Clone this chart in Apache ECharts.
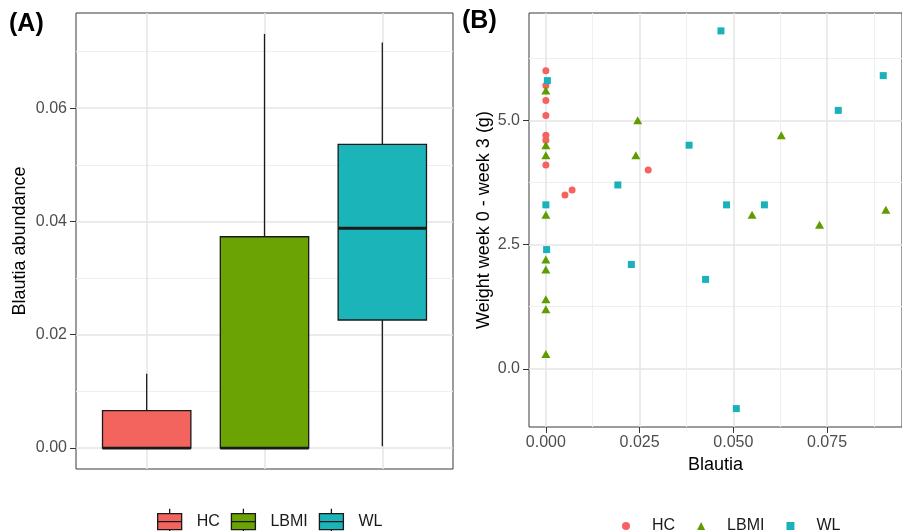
<!DOCTYPE html>
<html><head><meta charset="utf-8">
<script src="https://cdn.jsdelivr.net/npm/echarts@6/dist/echarts.min.js"></script>
<style>html,body{margin:0;padding:0;background:#fff}#c{width:902px;height:531px}</style>
</head><body><div id="c"></div>
<script>
// ---------- Panel A: box plot data ----------
const groups = ['HC', 'LBMI', 'WL'];
// [lower whisker, Q1, median, Q3, upper whisker]
const boxHC   = [0, 0, 0, 0.0066, 0.0131];
const boxLBMI = [0, 0, 0, 0.0373, 0.0731];
const boxWL   = [0.0003, 0.0226, 0.0388, 0.0536, 0.0716];
const yTicksA = [0, 0.02, 0.04, 0.06];
const yTickLabelsA = ['0.00', '0.02', '0.04', '0.06'];

// ---------- Panel B: scatter data ----------
const hcX = [0, 0, 0, 0, 0, 0, 0, 0.0051, 0.0070, 0.0273];
const hcY = [6.0, 5.7, 5.4, 5.1, 4.7, 4.6, 4.1, 3.5, 3.6, 4.0];
const lbmiX = [0, 0, 0, 0, 0, 0, 0, 0, 0, 0.0245, 0.0240, 0.0628, 0.0550, 0.0730, 0.0907];
const lbmiY = [5.6, 4.5, 4.3, 3.1, 2.2, 2.0, 1.4, 1.2, 0.3, 5.0, 4.3, 4.7, 3.1, 2.9, 3.2];
const wlX = [0.0004, 0.0467, 0.0900, 0.0780, 0.0382, 0.0192, 0.0482, 0.0583, 0, 0.0002, 0.0228, 0.0426, 0.0508];
const wlY = [5.8, 6.8, 5.9, 5.2, 4.5, 3.7, 3.3, 3.3, 3.3, 2.4, 2.1, 1.8, -0.8];
const xTicksB = [0, 0.025, 0.05, 0.075];
const xTickLabelsB = ['0.000', '0.025', '0.050', '0.075'];
const yTicksB = [0, 2.5, 5];
const yTickLabelsB = ['0.0', '2.5', '5.0'];

const boxColors = ['#F4645F', '#6BA204', '#1BB4B9'];
const ptColors = ['#F5625F', '#5E9C00', '#1AB2B8'];
const FONT = 'Liberation Sans';

function lookup(ticks, labels) {
  return function (v) {
    for (let i = 0; i < ticks.length; i++) if (Math.abs(ticks[i] - v) < 1e-9) return labels[i];
    return '';
  };
}
const zip = (xs, ys) => xs.map((x, i) => [x, ys[i]]);

function renderBox(params, api) {
  const x = api.value(0);
  const pMin = api.coord([x, api.value(1)]);
  const pQ1 = api.coord([x, api.value(2)]);
  const pMd = api.coord([x, api.value(3)]);
  const pQ3 = api.coord([x, api.value(4)]);
  const pMax = api.coord([x, api.value(5)]);
  const half = api.size([0.75, 0])[0] / 2;
  const color = api.visual('color');
  const ink = '#1a1a1a';
  return {
    type: 'group',
    children: [
      { type: 'line', shape: { x1: pQ3[0], y1: pQ3[1], x2: pMax[0], y2: pMax[1] }, style: { stroke: ink, lineWidth: 1.3 } },
      { type: 'line', shape: { x1: pQ1[0], y1: pQ1[1], x2: pMin[0], y2: pMin[1] }, style: { stroke: ink, lineWidth: 1.3 } },
      { type: 'rect', shape: { x: pQ3[0] - half, y: pQ3[1], width: 2 * half, height: pQ1[1] - pQ3[1] }, style: { fill: color, stroke: ink, lineWidth: 1.3 } },
      { type: 'line', shape: { x1: pMd[0] - half, y1: pMd[1], x2: pMd[0] + half, y2: pMd[1] }, style: { stroke: ink, lineWidth: 2.8 } }
    ]
  };
}

const boxes = [boxHC, boxLBMI, boxWL];
const boxSeries = groups.map((g, i) => ({
  name: 'A:' + g,
  type: 'custom',
  xAxisIndex: 0, yAxisIndex: 0,
  renderItem: renderBox,
  itemStyle: { color: boxColors[i] },
  encode: { x: 0, y: [1, 2, 3, 4, 5] },
  data: [[i + 1].concat(boxes[i])]
}));

const symbols = ['circle', 'triangle', 'rect'];
const sizes = [7, [9, 8], 7];
const ptData = [zip(hcX, hcY), zip(lbmiX, lbmiY), zip(wlX, wlY)];
const ptSeries = groups.map((g, i) => ({
  name: 'B:' + g,
  type: 'scatter',
  xAxisIndex: 1, yAxisIndex: 1,
  symbol: symbols[i],
  symbolSize: sizes[i],
  itemStyle: { color: ptColors[i], opacity: 1 },
  data: ptData[i]
}));

const gridLine = { show: true, lineStyle: { color: '#E4E4E4', width: 1.5 } };
const minorLine = { show: true, lineStyle: { color: '#EFEFEF', width: 1 } };
const tickLabel = { fontSize: 16, color: '#4D4D4D', fontFamily: FONT, margin: 9 };
const axisTick = { show: true, length: 6, lineStyle: { color: '#333', width: 1 } };
const noLine = { show: false, onZero: false };

const chart = echarts.init(document.getElementById('c'), null, { renderer: 'canvas' });
chart.setOption({
  animation: false,
  backgroundColor: '#fff',
  textStyle: { fontFamily: FONT },
  title: [
    { text: '(A)', left: 9, top: 12, padding: 0, textStyle: { fontSize: 25, fontWeight: 'bold', color: '#000', fontFamily: FONT } },
    { text: '(B)', left: 462, top: 9, padding: 0, textStyle: { fontSize: 25, fontWeight: 'bold', color: '#000', fontFamily: FONT } }
  ],
  grid: [
    { left: 76, top: 13, width: 377, height: 456, show: true, borderColor: '#3a3a3a', borderWidth: 1, backgroundColor: '#fff' },
    { left: 529, top: 13, width: 386, height: 414, show: true, borderColor: '#3a3a3a', borderWidth: 1, backgroundColor: '#fff' }
  ],
  xAxis: [
    {
      gridIndex: 0, type: 'value', min: 0.4, max: 3.6, minInterval: 1, maxInterval: 1,
      axisLine: noLine, axisTick: { show: false }, axisLabel: { show: false },
      splitLine: Object.assign({}, gridLine, { showMinLine: false, showMaxLine: false })
    },
    {
      gridIndex: 1, type: 'value', min: -0.0045, max: 0.095, minInterval: 0.025, maxInterval: 0.025,
      axisLine: noLine,
      axisTick: Object.assign({}, axisTick, { customValues: xTicksB }),
      axisLabel: Object.assign({}, tickLabel, { margin: 8, customValues: xTicksB, formatter: lookup(xTicksB, xTickLabelsB) }),
      splitLine: gridLine,
      minorTick: { show: false, splitNumber: 2 },
      minorSplitLine: minorLine,
      name: 'Blautia', nameLocation: 'middle', nameGap: 27,
      nameTextStyle: { fontSize: 18, color: '#000', fontFamily: FONT }
    }
  ],
  yAxis: [
    {
      gridIndex: 0, type: 'value', min: -0.0037, max: 0.0768, minInterval: 0.02, maxInterval: 0.02,
      axisLine: noLine,
      axisTick: Object.assign({}, axisTick, { customValues: yTicksA }),
      axisLabel: Object.assign({}, tickLabel, { customValues: yTicksA, formatter: lookup(yTicksA, yTickLabelsA) }),
      splitLine: gridLine,
      minorTick: { show: false, splitNumber: 2 },
      minorSplitLine: minorLine,
      name: 'Blautia abundance', nameLocation: 'middle', nameGap: 47,
      nameTextStyle: { fontSize: 18, color: '#000', fontFamily: FONT }
    },
    {
      gridIndex: 1, type: 'value', min: -1.17, max: 7.16, minInterval: 2.5, maxInterval: 2.5,
      axisLine: noLine,
      axisTick: Object.assign({}, axisTick, { customValues: yTicksB }),
      axisLabel: Object.assign({}, tickLabel, { customValues: yTicksB, formatter: lookup(yTicksB, yTickLabelsB) }),
      splitLine: gridLine,
      minorTick: { show: false, splitNumber: 2 },
      minorSplitLine: minorLine,
      name: 'Weight week 0 - week 3 (g)', nameLocation: 'middle', nameGap: 36,
      nameTextStyle: { fontSize: 18, color: '#000', fontFamily: FONT }
    }
  ],
  legend: [
    {
      data: groups.map(g => ({ name: 'A:' + g, icon: 'path://M0,5 L24,5 L24,21 L0,21 Z M0,13 L24,13 M12,0 L12,5 M12,21 L12,26' })),
      formatter: n => n.slice(2),
      left: 157, top: 508, itemWidth: 24, itemHeight: 26, itemGap: 11, padding: 0,
      selectedMode: false,
      itemStyle: { borderColor: '#1a1a1a', borderWidth: 1.3 },
      textStyle: { fontSize: 16, color: '#1a1a1a', fontFamily: FONT, padding: [0, 0, 0, 10] }
    },
    {
      data: groups.map(g => 'B:' + g),
      formatter: n => n.slice(2),
      left: 622, top: 518, itemWidth: 8, itemHeight: 8, itemGap: 22, padding: 0,
      selectedMode: false,
      textStyle: { fontSize: 16, color: '#1a1a1a', fontFamily: FONT, padding: [0, 0, 0, 17] }
    }
  ],
  series: boxSeries.concat(ptSeries)
});
</script>
</body></html>
